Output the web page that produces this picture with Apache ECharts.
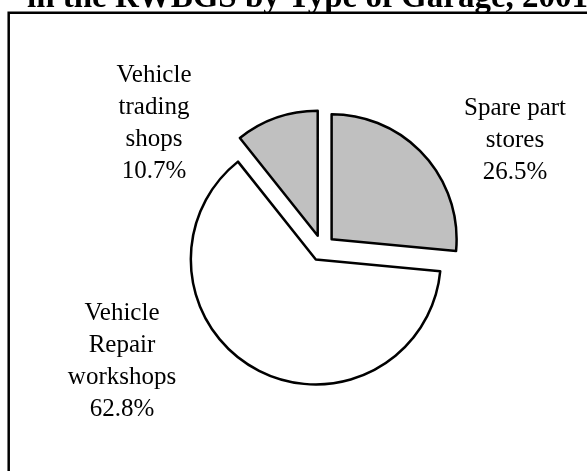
<!DOCTYPE html>
<html>
<head>
<meta charset="utf-8">
<script src="https://cdn.jsdelivr.net/npm/echarts@6/dist/echarts.min.js"></script>
<style>
    html, body { margin: 0; padding: 0; background: #fff; }
    #chart { width: 587px; height: 471px; }
</style>
</head>
<body>
<div id="chart"></div>
<script>
// garage types, clockwise from 12 o'clock
var categories = ['Spare part\nstores', 'Vehicle\nRepair\nworkshops', 'Vehicle\ntrading\nshops'];
var shares = [26.5, 62.8, 10.7];
var fills = ['#c0c0c0', '#ffffff', '#c0c0c0'];
// where each label block sits (center), by slice
var labelPos = [[515, 140], [122, 361], [154, 123]];

var pieCenter = [322, 248];
var pieRadius = 125;
var explode = 13;

var myChart = echarts.init(document.getElementById('chart'));

var total = shares.reduce(function (a, b) { return a + b; }, 0);

// one series per slice so each can be pulled out along its own mid angle
var series = [];
var cum = 0;
shares.forEach(function (v, i) {
    var mid = (90 - 360 * (cum + v / 2) / total) * Math.PI / 180;
    cum += v;
    var c = [pieCenter[0] + explode * Math.cos(mid), pieCenter[1] - explode * Math.sin(mid)];
    series.push({
        type: 'pie',
        center: c,
        radius: pieRadius,
        startAngle: 90,
        clockwise: true,
        silent: true,
        avoidLabelOverlap: false,
        emphasis: { disabled: true },
        label: {
            show: true,
            formatter: '{b}\n{c}%',
            fontFamily: 'Liberation Serif',
            fontSize: 25,
            lineHeight: 32,
            color: '#000',
            align: 'center'
        },
        labelLine: { show: false },
        labelLayout: function (params) {
            var p = labelPos[params.dataIndex];
            return { x: p[0], y: p[1], align: 'center', verticalAlign: 'middle' };
        },
        data: categories.map(function (name, j) {
            var mine = j === i;
            return {
                name: name,
                value: shares[j],
                itemStyle: mine
                    ? { color: fills[j], borderColor: '#000', borderWidth: 2.5 }
                    : { color: 'rgba(0,0,0,0)', borderWidth: 0 },
                label: { show: mine }
            };
        })
    });
});

var option = {
    animation: false,
    title: {
        text: 'in the RWBGS by Type of Garage, 2001',
        left: 22,
        top: -23,
        textStyle: {
            fontFamily: 'Liberation Serif',
            fontWeight: 'bold',
            fontSize: 33,
            color: '#000'
        }
    },
    graphic: [{
        type: 'rect',
        shape: { x: 8.7, y: 12.8, width: 700, height: 600 },
        style: { fill: 'none', stroke: '#000', lineWidth: 2.5 },
        z: 0
    }],
    series: series
};

myChart.setOption(option);
window.addEventListener('resize', function () {
    myChart.resize();
});
</script>
</body>
</html>
